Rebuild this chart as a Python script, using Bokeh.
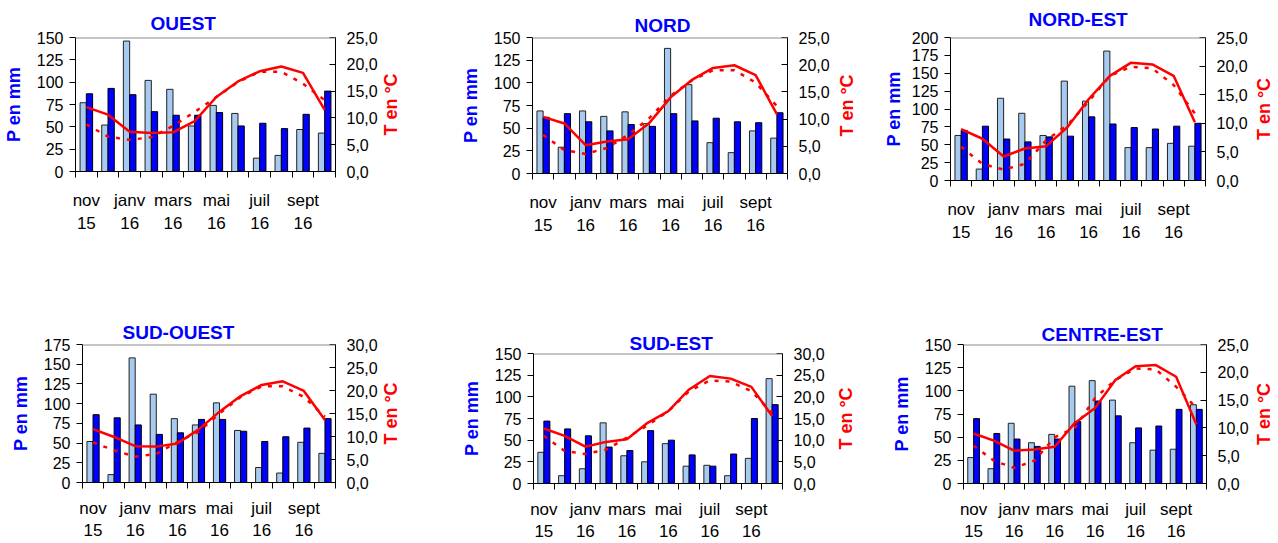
import math
import numpy as np
from bokeh.plotting import figure
from bokeh.models import Range1d, LinearAxis, FixedTicker, Span, Title, Spacer
from bokeh.core.properties import value
from bokeh.layouts import row, column
from bokeh.embed import file_html
from bokeh.resources import INLINE

# ---------------- data ----------------
months = ["nov 15", "déc 15", "janv 16", "févr 16", "mars 16", "avr 16",
          "mai 16", "juin 16", "juil 16", "août 16", "sept 16", "oct 16"]
month_tick_labels = ["nov", "janv", "mars", "mai", "juil", "sept"]
year_tick_labels = ["15", "16", "16", "16", "16", "16"]

# light bars: precipitation 2015-2016 ; dark bars: normal precipitation
# solid red: temperature 2015-2016 ; dashed red: normal temperature
ouest_p_obs = [77, 52, 146, 102, 92, 51, 74, 65, 15, 18, 47, 43]
ouest_p_norm = [87, 93, 86, 67, 63, 63, 66, 51, 54, 48, 64, 90]
ouest_t_obs = [12.0, 10.6, 7.4, 7.2, 7.3, 9.4, 13.9, 16.8, 18.7, 19.6, 18.4, 11.5]
ouest_t_norm = [8.8, 6.5, 5.9, 6.4, 8.5, 11.1, 13.9, 16.7, 18.6, 18.6, 16.4, 13.3]

nord_p_obs = [69, 29, 69, 63, 68, 55, 138, 98, 34, 23, 47, 39]
nord_p_norm = [62, 66, 57, 47, 54, 52, 66, 58, 61, 57, 56, 67]
nord_t_obs = [10.4, 9.2, 5.2, 5.9, 6.3, 9.3, 14.0, 17.2, 19.4, 19.9, 18.1, 10.9]
nord_t_norm = [7.1, 4.3, 3.6, 4.7, 7.1, 10.2, 14.3, 17.1, 19.0, 19.0, 16.7, 12.4]

nordest_p_obs = [63, 16, 115, 94, 63, 139, 111, 181, 46, 46, 52, 48]
nordest_p_norm = [70, 76, 58, 54, 61, 62, 89, 79, 74, 72, 76, 80]
nordest_t_obs = [9.0, 7.3, 4.2, 5.6, 6.0, 9.3, 14.2, 18.3, 20.6, 20.3, 18.3, 10.2]
nordest_t_norm = [5.9, 2.9, 1.9, 2.9, 7.0, 9.7, 13.8, 18.3, 19.9, 19.6, 16.7, 11.7]

sudouest_p_obs = [52, 10, 158, 112, 81, 73, 101, 66, 19, 12, 51, 37]
sudouest_p_norm = [86, 82, 73, 61, 63, 80, 80, 65, 52, 58, 69, 81]
sudouest_t_obs = [11.6, 9.9, 7.9, 7.8, 8.5, 11.5, 15.4, 18.8, 21.2, 22.0, 19.9, 13.6]
sudouest_t_norm = [8.7, 7.0, 5.6, 6.2, 8.8, 11.0, 15.0, 18.6, 20.9, 20.9, 18.6, 14.3]

sudest_p_obs = [36, 9, 17, 70, 32, 25, 46, 20, 21, 9, 29, 121]
sudest_p_norm = [72, 63, 55, 42, 38, 61, 50, 33, 20, 34, 75, 91]
sudest_t_obs = [12.7, 11.0, 8.5, 9.6, 10.2, 14.0, 16.7, 21.7, 24.8, 24.2, 22.3, 15.6]
sudest_t_norm = [11.0, 7.5, 6.8, 7.8, 10.6, 13.4, 16.7, 21.3, 23.8, 23.5, 21.3, 16.3]

centreest_p_obs = [28, 16, 65, 44, 53, 105, 111, 90, 44, 36, 37, 85]
centreest_p_norm = [70, 54, 48, 40, 48, 67, 89, 73, 60, 62, 80, 80]
centreest_t_obs = [9.0, 7.7, 5.9, 6.1, 6.6, 10.9, 13.6, 18.6, 21.1, 21.3, 19.2, 10.6]
centreest_t_norm = [6.8, 4.1, 2.8, 4.1, 8.3, 10.0, 15.4, 18.6, 20.7, 20.5, 17.4, 13.6]

# ---------------- style ----------------
FONT = "Liberation Sans"
LIGHT = "#A6CAF0"
DARK = "#0000FF"
RED = "#FF0000"


def panel(name, p_obs, p_norm, t_obs, t_norm, p_max, t_max,
          w, h, bl, br, bt, bb, t_off, t_so, s1, s2, sy=10, t_va="bottom"):
    n = len(months)
    xc = np.arange(n) + 0.5
    p = figure(width=w, height=h, x_range=Range1d(0, n), y_range=Range1d(0, p_max),
               output_backend="svg", toolbar_location=None,
               x_axis_type=None, y_axis_type=None,
               min_border_left=bl, min_border_right=br,
               min_border_top=bt, min_border_bottom=bb)
    p.extra_y_ranges = {"t": Range1d(0, t_max)}
    p.outline_line_color = None
    p.background_fill_color = "white"
    p.border_fill_color = "white"

    p.title = Title(text=name, align="left", offset=t_off, standoff=t_so,
                    vertical_align=t_va, text_font=FONT,
                    text_font_style="bold", text_font_size="19px",
                    text_color=DARK)

    # left axis (precipitation)
    ya = LinearAxis(ticker=FixedTicker(ticks=list(range(0, p_max + 1, 25))))
    ya.axis_label = "P en mm"
    ya.axis_label_text_font = FONT
    ya.axis_label_text_font_style = "bold"
    ya.axis_label_text_font_size = "18px"
    ya.axis_label_text_color = DARK
    ya.axis_label_standoff = sy
    ya.major_label_text_font = FONT
    ya.major_label_text_font_size = "16px"
    ya.major_label_text_color = "black"
    ya.major_label_standoff = 6
    ya.major_tick_out = 6
    ya.major_tick_in = 0
    ya.minor_tick_line_color = None
    ya.axis_line_color = "black"
    ya.major_tick_line_color = "black"
    p.add_layout(ya, "left")

    # right axis (temperature)
    t_ticks = list(range(0, t_max + 1, 5))
    ta = LinearAxis(y_range_name="t", ticker=FixedTicker(ticks=t_ticks),
                    major_label_overrides={t: f"{t},0" for t in t_ticks})
    ta.major_label_text_font = FONT
    ta.major_label_text_font_size = "16px"
    ta.major_label_text_color = "black"
    ta.major_label_standoff = 11
    ta.major_tick_out = 0
    ta.major_tick_in = 6
    ta.minor_tick_line_color = None
    ta.axis_line_color = "black"
    ta.major_tick_line_color = "black"
    p.add_layout(ta, "right")

    # bottom axis: month names
    lab_pos = [float(v) for v in xc[::2]]
    xa = LinearAxis(ticker=FixedTicker(ticks=lab_pos, minor_ticks=list(range(n + 1))),
                    major_label_overrides={v: m for v, m in zip(lab_pos, month_tick_labels)})
    xa.major_tick_out = 0
    xa.major_tick_in = 0
    xa.major_tick_line_color = None
    xa.minor_tick_out = 6
    xa.minor_tick_in = 0
    xa.minor_tick_line_color = "black"
    xa.axis_line_color = "black"
    xa.major_label_standoff = s1
    xa.major_label_text_font = FONT
    xa.major_label_text_font_size = "17px"
    xa.major_label_text_color = "black"
    p.add_layout(xa, "below")

    # bottom axis: years
    xb = LinearAxis(ticker=FixedTicker(ticks=lab_pos),
                    major_label_overrides={v: y for v, y in zip(lab_pos, year_tick_labels)})
    xb.axis_line_color = None
    xb.major_tick_line_color = None
    xb.minor_tick_line_color = None
    xb.major_tick_out = 0
    xb.major_tick_in = 0
    xb.major_label_standoff = s2
    xb.major_label_text_font = FONT
    xb.major_label_text_font_size = "17px"
    xb.major_label_text_color = "black"
    p.add_layout(xb, "below")

    # bars
    p.vbar(x=xc - 0.145, top=p_obs, width=0.29, bottom=0,
           fill_color=LIGHT, line_color="#222222", line_width=1)
    p.vbar(x=xc + 0.145, top=p_norm, width=0.29, bottom=0,
           fill_color=DARK, line_color="#000000", line_width=1)

    # temperature lines
    p.line(xc, t_norm, y_range_name="t", line_color=RED, line_width=2.5,
           line_dash="4 7")
    p.line(xc, t_obs, y_range_name="t", line_color=RED, line_width=2.5)

    # grey top border
    p.add_layout(Span(location=p_max, dimension="width", line_color="#8c8c8c",
                      line_width=2))
    return p


def side_label(w, h, bt, bb, cx):
    """Narrow strip holding the rotated temperature-axis title,
    vertically centred on the neighbouring plot frame."""
    g = figure(width=w, height=h, x_range=Range1d(0, w), y_range=Range1d(0, 1),
               output_backend="svg", toolbar_location=None,
               x_axis_type=None, y_axis_type=None,
               min_border_left=0, min_border_right=0,
               min_border_top=bt, min_border_bottom=bb)
    g.outline_line_color = None
    g.background_fill_color = "white"
    g.border_fill_color = "white"
    g.text(x=[cx], y=[0.5], text=["T en °C"], angle=math.pi / 2,
           text_align="center", text_baseline="middle",
           text_font=value(FONT), text_font_style="bold",
           text_font_size="18px", text_color=RED)
    return g


# row 1 : common top/bottom borders, frame heights differ through canvas height
T1, B1 = 37, 120
f1 = panel("OUEST", ouest_p_obs, ouest_p_norm, ouest_t_obs, ouest_t_norm, 150, 25,
           380, 291, 72, 45, T1, B1, 75, 8, 13, 4)
g1 = side_label(50, 291, T1, B1, 10.5)
f2 = panel("NORD", nord_p_obs, nord_p_norm, nord_t_obs, nord_t_norm, 150, 25,
           402, 293, 102, 45, T1, B1, 102, 3, 13, 4)
g2 = side_label(38, 293, T1, B1, 14)
f3 = panel("NORD-EST", nordest_p_obs, nordest_p_norm, nordest_t_obs, nordest_t_norm, 200, 25,
           380, 300, 80, 45, T1, B1, 78, 11, 13, 4, sy=5, t_va="top")
g3 = side_label(28, 300, T1, B1, 13)

# row 2
T2, B2 = 44, 60
f4 = panel("SUD-OUEST", sudouest_p_obs, sudouest_p_norm, sudouest_t_obs, sudouest_t_norm, 175, 30,
           380, 242, 82, 45, T2, B2, 40, 3, 10, 3)
g4 = side_label(50, 242, T2, B2, 10.5)
f5 = panel("SUD-EST", sudest_p_obs, sudest_p_norm, sudest_t_obs, sudest_t_norm, 150, 30,
           397, 234, 103, 45, T2, B2, 96, 0, 10, 3)
g5 = side_label(43, 234, T2, B2, 18)
f6 = panel("CENTRE-EST", centreest_p_obs, centreest_p_norm, centreest_t_obs, centreest_t_norm, 150, 25,
           381, 243, 93, 45, T2, B2, 78, 0, 10, 3)
g6 = side_label(27, 243, T2, B2, 12.5)

layout = column(
    row(f1, g1, f2, g2, f3, g3),
    row(f4, g4,
        column(Spacer(width=397, height=9), f5),
        column(Spacer(width=43, height=9), g5),
        f6, g6),
)
open("out.html", "w").write(file_html(layout, INLINE))
